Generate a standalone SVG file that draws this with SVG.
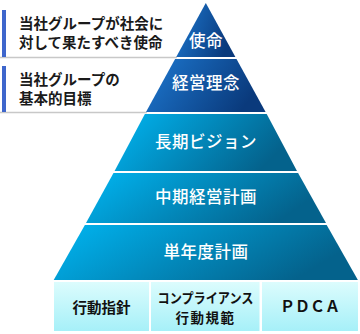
<svg xmlns="http://www.w3.org/2000/svg" width="360" height="334" viewBox="0 0 360 334">
<defs>
<linearGradient id="gDark" x1="0" y1="0" x2="1" y2="0.3">
<stop offset="0" stop-color="#1d78d0"/>
<stop offset="1" stop-color="#0a3a7c"/>
</linearGradient>
<linearGradient id="gCyan" x1="0" y1="0" x2="1" y2="0.3">
<stop offset="0" stop-color="#00b6f2"/>
<stop offset="1" stop-color="#04628c"/>
</linearGradient>
<linearGradient id="gBox" x1="0" y1="0" x2="0" y2="1">
<stop offset="0" stop-color="#dcfcfd"/>
<stop offset="1" stop-color="#a6f0f8"/>
</linearGradient>
<style>
.lbl{font-family:"Noto Sans CJK JP","Noto Sans",sans-serif;font-weight:700;font-size:14.5px;fill:#1a1a1a}
.tier{font-family:"Noto Sans CJK JP","Noto Sans",sans-serif;font-weight:500;font-size:16.5px;fill:#ffffff;text-anchor:middle;letter-spacing:0.5px}
.box{font-family:"Noto Sans CJK JP","Noto Sans",sans-serif;font-weight:700;font-size:14.5px;fill:#111111;text-anchor:middle}
.sm{font-size:13.5px}
.bar{fill:#3e66cc}
.rule{stroke:#c8c8c8;stroke-width:1.5}
</style>
</defs>
<rect width="360" height="334" fill="#ffffff"/>
<g id="connectors">
<line class="rule" x1="0" y1="57.5" x2="177" y2="57.5"/>
<line class="rule" x1="0" y1="112.5" x2="147" y2="112.5"/>
</g>
<g id="label-mission">
<rect class="bar" x="2" y="10" width="4" height="47"/>
<text class="lbl" x="19" y="29">当社グループが社会に</text>
<text class="lbl" x="19" y="48">対して果たすべき使命</text>
</g>
<g id="label-goal">
<rect class="bar" x="2" y="66" width="4" height="46"/>
<text class="lbl" x="19" y="85">当社グループの</text>
<text class="lbl" x="19" y="104">基本的目標</text>
</g>
<g id="tier-mission">
<polygon points="205.8,3 235.4,57 176.2,57" fill="url(#gDark)"/>
<text class="tier" x="206" y="47">使命</text>
</g>
<g id="tier-philosophy">
<polygon points="175.1,59 236.5,59 265.6,112 146,112" fill="url(#gDark)"/>
<text class="tier" x="206" y="89">経営理念</text>
</g>
<g id="tier-vision">
<polygon points="144.9,114 266.7,114 297,171 114.6,171" fill="url(#gCyan)"/>
<text class="tier" x="206" y="148">長期ビジョン</text>
</g>
<g id="tier-midterm">
<polygon points="113.5,173 298.1,173 326,223 86,223" fill="url(#gCyan)"/>
<text class="tier" x="206" y="203">中期経営計画</text>
</g>
<g id="tier-annual">
<polygon points="84.9,225 326.7,225 357.9,280 53.7,280" fill="url(#gCyan)"/>
<text class="tier" x="206" y="258">単年度計画</text>
</g>
<g id="box-guideline">
<rect x="54" y="282" width="95" height="49" fill="url(#gBox)"/>
<text class="box" x="101.5" y="313">行動指針</text>
</g>
<g id="box-compliance">
<rect x="151" y="282" width="108.5" height="49" fill="url(#gBox)"/>
<text class="box sm" x="205.5" y="303" textLength="96" lengthAdjust="spacingAndGlyphs">コンプライアンス</text>
<text class="box sm" x="205.5" y="322.5" style="letter-spacing:1.5px">行動規範</text>
</g>
<g id="box-pdca">
<rect x="262" y="282" width="96" height="49" fill="url(#gBox)"/>
<text class="box" x="310" y="312" style="font-size:15px">ＰＤＣＡ</text>
</g>
</svg>
